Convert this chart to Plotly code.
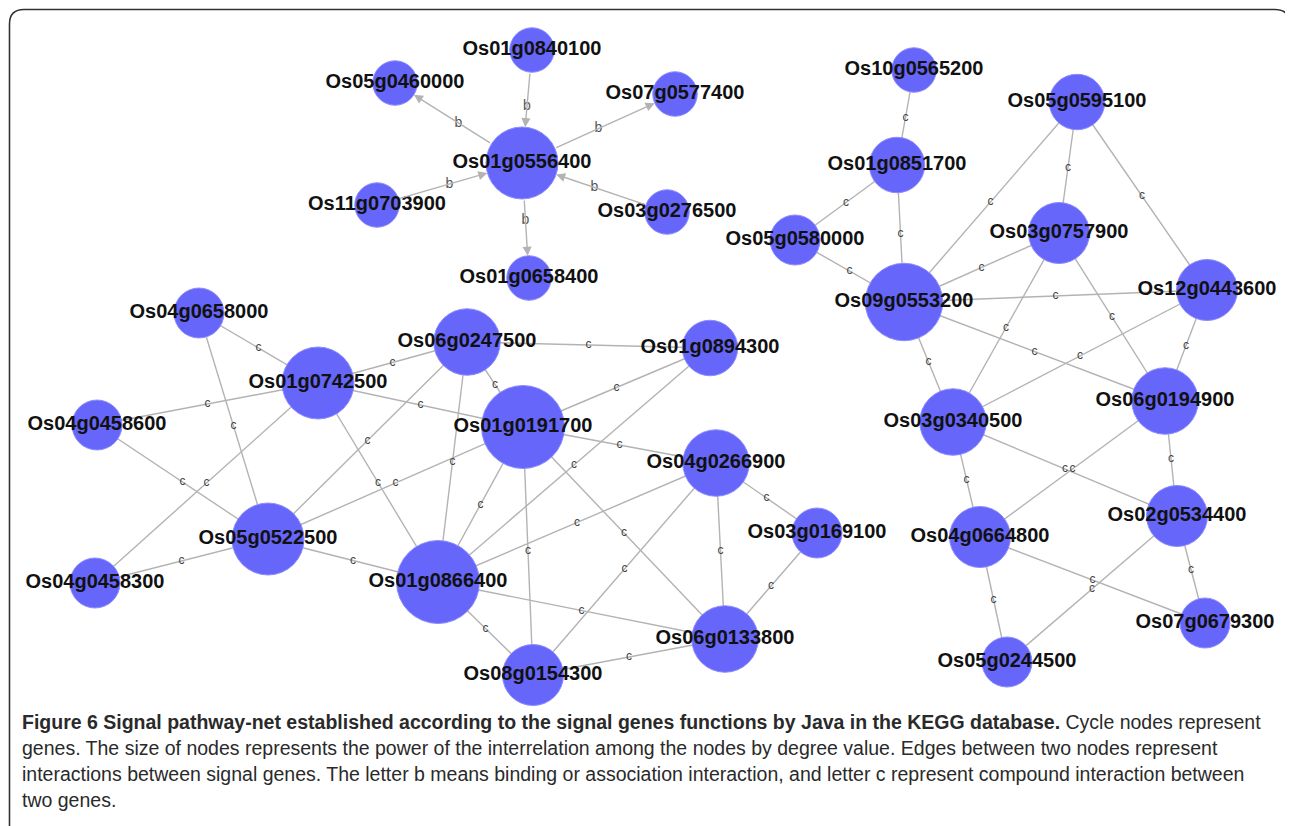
import plotly.graph_objects as go

# ---------------- data ----------------
node_names = [
    "Os01g0556400", "Os01g0840100", "Os05g0460000", "Os07g0577400", "Os11g0703900",
    "Os03g0276500", "Os01g0658400",
    "Os04g0658000", "Os01g0742500", "Os04g0458600", "Os05g0522500", "Os04g0458300",
    "Os01g0866400", "Os06g0247500", "Os01g0894300", "Os01g0191700", "Os04g0266900",
    "Os03g0169100", "Os06g0133800", "Os08g0154300",
    "Os10g0565200", "Os01g0851700", "Os05g0580000", "Os09g0553200", "Os05g0595100",
    "Os03g0757900", "Os12g0443600", "Os06g0194900", "Os03g0340500", "Os02g0534400",
    "Os04g0664800", "Os07g0679300", "Os05g0244500",
]
node_x = [
    522, 532, 395, 675, 377, 667, 529,
    199, 318, 97, 268, 95, 438, 467, 710, 523, 716, 817, 725, 533,
    914, 897, 795, 904, 1077, 1059, 1207, 1165, 953, 1177, 980, 1205, 1007,
]
node_y = [
    163, 50, 83, 94, 205, 212, 278,
    313, 383, 425, 539, 583, 582, 342, 348, 427, 463, 533, 639, 675,
    70, 165, 240, 302, 102, 233, 290, 401, 422, 516, 537, 623, 662,
]

# directed "b" edges (source -> target)
b_edges = [
    ("Os01g0840100", "Os01g0556400"),
    ("Os01g0556400", "Os05g0460000"),
    ("Os01g0556400", "Os07g0577400"),
    ("Os11g0703900", "Os01g0556400"),
    ("Os03g0276500", "Os01g0556400"),
    ("Os01g0556400", "Os01g0658400"),
]
# undirected "c" edges
c_edges = [
    ("Os04g0658000", "Os01g0742500"), ("Os04g0658000", "Os05g0522500"),
    ("Os04g0458600", "Os01g0742500"), ("Os04g0458600", "Os05g0522500"),
    ("Os04g0458300", "Os01g0742500"), ("Os04g0458300", "Os05g0522500"),
    ("Os01g0742500", "Os06g0247500"), ("Os01g0742500", "Os01g0191700"),
    ("Os01g0742500", "Os01g0866400"), ("Os05g0522500", "Os06g0247500"),
    ("Os05g0522500", "Os01g0191700"), ("Os05g0522500", "Os01g0866400"),
    ("Os06g0247500", "Os01g0894300"), ("Os06g0247500", "Os01g0191700"),
    ("Os06g0247500", "Os01g0866400"), ("Os01g0191700", "Os01g0894300"),
    ("Os01g0191700", "Os04g0266900"), ("Os01g0191700", "Os01g0866400"),
    ("Os01g0191700", "Os08g0154300"), ("Os01g0191700", "Os06g0133800"),
    ("Os01g0894300", "Os01g0866400"), ("Os04g0266900", "Os01g0866400"),
    ("Os04g0266900", "Os08g0154300"), ("Os04g0266900", "Os06g0133800"),
    ("Os04g0266900", "Os03g0169100"), ("Os03g0169100", "Os06g0133800"),
    ("Os01g0866400", "Os06g0133800"), ("Os01g0866400", "Os08g0154300"),
    ("Os08g0154300", "Os06g0133800"),
    ("Os10g0565200", "Os01g0851700"), ("Os01g0851700", "Os05g0580000"),
    ("Os01g0851700", "Os09g0553200"), ("Os05g0580000", "Os09g0553200"),
    ("Os05g0595100", "Os09g0553200"), ("Os05g0595100", "Os03g0757900"),
    ("Os05g0595100", "Os12g0443600"), ("Os03g0757900", "Os09g0553200"),
    ("Os09g0553200", "Os12g0443600"), ("Os03g0757900", "Os03g0340500"),
    ("Os03g0757900", "Os06g0194900"), ("Os12g0443600", "Os03g0340500"),
    ("Os12g0443600", "Os06g0194900"), ("Os09g0553200", "Os06g0194900"),
    ("Os09g0553200", "Os03g0340500"), ("Os03g0340500", "Os04g0664800"),
    ("Os03g0340500", "Os02g0534400"), ("Os06g0194900", "Os04g0664800"),
    ("Os06g0194900", "Os02g0534400"), ("Os04g0664800", "Os05g0244500"),
    ("Os04g0664800", "Os07g0679300"), ("Os02g0534400", "Os05g0244500"),
    ("Os02g0534400", "Os07g0679300"),
]

caption_bold = "Figure 6 Signal pathway-net established according to the signal genes functions by Java in the KEGG database."
caption_lines = [
    " Cycle nodes represent",
    "genes. The size of nodes represents the power of the interrelation among the nodes by degree value. Edges between two nodes represent",
    "interactions between signal genes. The letter b means binding or association interaction, and letter c represent compound interaction between",
    "two genes.",
]

# ---------------- build ----------------
W, H = 1293, 826
OFF = 8  # page body margin, so that axis units equal page pixels
pos = {n: (x, y) for n, x, y in zip(node_names, node_x, node_y)}
degree = {n: 0 for n in node_names}
for s, t in b_edges + c_edges:
    degree[s] += 1
    degree[t] += 1
radius = {n: 19.5 + 2.75 * degree[n] for n in node_names}

EDGE_COL = "#b3b3b3"
NODE_COL = "#6666fa"

fig = go.Figure()

# c edges as lines
ex, ey = [], []
for s, t in c_edges:
    ex += [pos[s][0], pos[t][0], None]
    ey += [pos[s][1], pos[t][1], None]
fig.add_trace(go.Scatter(x=ex, y=ey, mode="lines",
                         line=dict(color=EDGE_COL, width=1.4),
                         hoverinfo="skip", showlegend=False))

# nodes
fig.add_trace(go.Scatter(
    x=node_x, y=node_y, mode="markers",
    marker=dict(size=[2 * radius[n] for n in node_names], color=NODE_COL,
                line=dict(width=1, color="#8c8cff"), opacity=1),
    hoverinfo="text", text=node_names, showlegend=False))

# edge labels
cx = [(pos[s][0] + pos[t][0]) / 2 for s, t in c_edges]
cy = [(pos[s][1] + pos[t][1]) / 2 for s, t in c_edges]
fig.add_trace(go.Scatter(x=cx, y=cy, mode="text", text=["c"] * len(c_edges),
                         textfont=dict(family="Liberation Sans", size=12, color="#444444"),
                         hoverinfo="skip", showlegend=False))
bx = [(pos[s][0] + pos[t][0]) / 2 for s, t in b_edges]
by = [(pos[s][1] + pos[t][1]) / 2 for s, t in b_edges]
fig.add_trace(go.Scatter(x=bx, y=by, mode="text", text=["b"] * len(b_edges),
                         textfont=dict(family="Liberation Sans", size=14, color="#555555"),
                         hoverinfo="skip", showlegend=False))

# node labels
fig.add_trace(go.Scatter(x=node_x, y=node_y, mode="text", text=node_names,
                         textposition="middle center",
                         textfont=dict(family="Liberation Sans", size=20, color="#111111",
                                       weight="bold"),
                         hoverinfo="skip", showlegend=False))

# directed b edges as arrows
for s, t in b_edges:
    fig.add_annotation(x=pos[t][0], y=pos[t][1], ax=pos[s][0], ay=pos[s][1],
                       xref="x", yref="y", axref="x", ayref="y", text="",
                       showarrow=True, arrowhead=2, arrowsize=1.3, arrowwidth=1.4,
                       arrowcolor=EDGE_COL, standoff=radius[t], startstandoff=radius[s])

# caption
cap_font = dict(family="Liberation Sans", size=19.5, color="#2a2a2a")
cap_y = [722, 748, 774, 800]
for i, line in enumerate(caption_lines):
    txt = ("<b>" + caption_bold + "</b>" + line) if i == 0 else line
    fig.add_annotation(x=20, y=cap_y[i], xref="x", yref="y", text=txt, showarrow=False,
                       xanchor="left", yanchor="middle", font=cap_font)

# frame
fig.add_shape(type="path",
              path="M 9.5 840 L 9.5 24 Q 9.5 9.5 24 9.5 L 1275 9.5 Q 1289.5 9.5 1289.5 24 L 1289.5 840",
              xref="x", yref="y", line=dict(color="#333333", width=1.6))

fig.update_xaxes(range=[OFF, W + OFF], visible=False, fixedrange=True)
fig.update_yaxes(range=[H + OFF, OFF], visible=False, fixedrange=True)
fig.update_layout(width=W, height=H, margin=dict(l=0, r=0, t=0, b=0),
                  plot_bgcolor="white", paper_bgcolor="white", showlegend=False)

fig.write_html("out.html")
